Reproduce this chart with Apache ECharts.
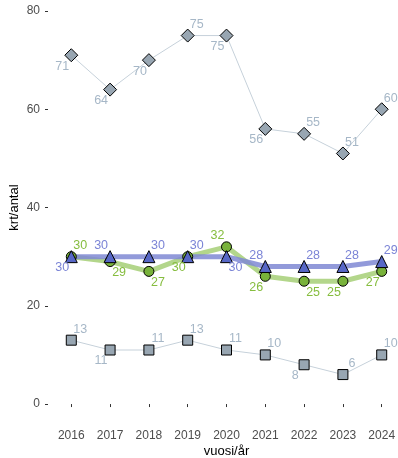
<!DOCTYPE html>
<html><head><meta charset="utf-8">
<script src="https://cdn.jsdelivr.net/npm/echarts@6/dist/echarts.min.js"></script>
<style>html,body{margin:0;padding:0;background:#fff}#c{width:398px;height:458px}</style>
</head><body><div id="c"></div>
<script>
const years = [2016, 2017, 2018, 2019, 2020, 2021, 2022, 2023, 2024];
const diamondVals = [71, 64, 70, 75, 75, 56, 55, 51, 60];
const squareVals  = [13, 11, 11, 13, 11, 10, 8, 6, 10];
const triangleVals = [30, 30, 30, 30, 30, 28, 28, 28, 29];
const circleVals  = [30, 29, 27, 30, 32, 26, 25, 25, 27];
const yTicks = [0, 20, 40, 60, 80];
// label placement codes (a=above, b=below, l=left, r=right)
const diamondSide = ['bl','bl','bl','ar','bl','bl','ar','ar','ar'];
const squareSide  = ['ar','bl','ar','ar','ar','ar','bl','ar','ar'];
const triangleSide = ['bl','al','ar','ar','br','al','ar','ar','ar'];
const circleSide  = ['ar','br','br','bl','al','bl','br','bl','bl'];

const FONT = 'Liberation Sans, Arial, sans-serif';
function off(code){
  const dx = code[1]==='r' ? 9 : -9;
  const dy = code[0]==='a' ? -11 : 11;
  return [dx, dy];
}
function pts(vals, sides){
  return vals.map((v,i)=>({value:[years[i], v], label:{offset:off(sides[i])}}));
}
function group(name, vals, sides, lineColor, lineWidth, lineOpacity, sym, symSize, fill, labColor){
  return [
    {type:'line', name:name+'L', data:vals.map((v,i)=>[years[i], v]), showSymbol:false, z:1, silent:true,
     lineStyle:{color:lineColor, width:lineWidth, opacity:lineOpacity}},
    {type:'line', name:name, data:pts(vals, sides), z:3, symbol:sym, symbolSize:symSize,
     showAllSymbol:true, lineStyle:{width:0, opacity:0},
     itemStyle:{color:fill, borderColor:'#000', borderWidth:1},
     label:{show:true, position:'inside', color:labColor, fontSize:12.5, fontFamily:FONT,
       formatter:p=>String(p.value[1])}}
  ];
}
const series = [].concat(
  group('d', diamondVals, diamondSide, '#c6d1da', 1, 1, 'diamond', 13, '#98a6b2', '#a6b7c7'),
  group('s', squareVals, squareSide, '#c6d1da', 1, 1, 'rect', 10, '#98a6b2', '#a6b7c7'),
  group('c', circleVals, circleSide, '#b3d68b', 5, 1, 'circle', 10, '#78b23a', '#86bd3f'),
  group('t', triangleVals, triangleSide, '#7f88d3', 5, 0.85, 'triangle', 12, '#5767c6', '#7b84d6')
);
const chart = echarts.init(document.getElementById('c'));
chart.setOption({
  animation:false,
  grid:{left:48, right:-7, top:-8.65, bottom:34.3, containLabel:false, outerBoundsMode:'none'},
  xAxis:{type:'value', min:2015.4, max:2024.6,
    axisLine:{show:false},
    axisTick:{show:true, length:3, lineStyle:{color:'#333'}, customValues:years},
    axisLabel:{color:'#4d4d4d', fontSize:12, margin:6, customValues:years, fontFamily:FONT,
      formatter:v=>String(v)},
    splitLine:{show:false},
    name:'vuosi/år', nameLocation:'middle', nameGap:21, nameMoveOverlap:false,
    nameTextStyle:{color:'#000', fontSize:13, fontFamily:FONT}},
  yAxis:{type:'value', min:-4, max:84,
    axisLine:{show:false}, splitLine:{show:false},
    axisTick:{show:true, length:3, lineStyle:{color:'#333'}, customValues:yTicks},
    axisLabel:{color:'#4d4d4d', fontSize:12, margin:8, customValues:yTicks, fontFamily:FONT},
    name:'krt/antal', nameLocation:'middle', nameGap:27, nameRotate:90, nameMoveOverlap:false,
    nameTextStyle:{color:'#000', fontSize:13, fontFamily:FONT}},
  series:series
});
</script></body></html>
